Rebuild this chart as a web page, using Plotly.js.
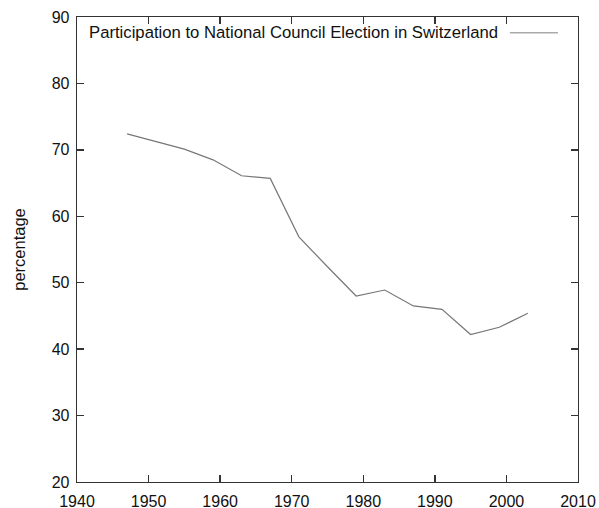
<!DOCTYPE html>
<html>
<head>
<meta charset="utf-8">
<script src="https://cdn.plot.ly/plotly-3.0.1.min.js"></script>
<style>html,body{margin:0;padding:0;background:#fff;}#chart{width:599px;height:508px;}</style>
</head>
<body>
<div id="chart"></div>
<script>
const years = [1947, 1951, 1955, 1959, 1963, 1967, 1971, 1975, 1979, 1983, 1987, 1991, 1995, 1999, 2003];
const participation = [72.4, 71.2, 70.1, 68.5, 66.1, 65.7, 56.9, 52.4, 48.0, 48.9, 46.5, 46.0, 42.2, 43.3, 45.4];
const seriesName = "Participation to National Council Election in Switzerland";
const xTicks = [1940, 1950, 1960, 1970, 1980, 1990, 2000, 2010];
const yTicks = [20, 30, 40, 50, 60, 70, 80, 90];

const lineColor = "#777777";
const fam = "Liberation Sans, Arial, Helvetica, sans-serif";
const font = {family: fam, size: 16, color: "#111"};
const legendFont = {family: fam, size: 16.7, color: "#111"};
const titleFont = {family: fam, size: 16.5, color: "#111"};

const trace = {
  x: years, y: participation, type: "scatter", mode: "lines",
  name: seriesName, line: {color: lineColor, width: 1.2}, showlegend: false
};

const axisCommon = {
  showline: true, linecolor: "#333", linewidth: 1.3,
  mirror: "ticks", ticks: "inside", ticklen: 7, tickcolor: "#333", tickwidth: 1.3,
  showgrid: false, zeroline: false, tickfont: font
};

const layout = {
  width: 599, height: 508,
  margin: {l: 77, r: 21, t: 17, b: 26},
  paper_bgcolor: "#fff", plot_bgcolor: "#fff",
  font: font,
  xaxis: Object.assign({}, axisCommon, {range: [1940, 2010], tickvals: xTicks, ticktext: xTicks.map(String), ticklabelstandoff: 4}),
  yaxis: Object.assign({}, axisCommon, {range: [20, 90], tickvals: yTicks, ticktext: yTicks.map(String), ticklabelstandoff: 3,
    title: {text: "percentage", font: titleFont, standoff: 22}}),
  annotations: [{
    xref: "paper", yref: "paper", x: 0.02, y: 0.966, xanchor: "left", yanchor: "middle",
    text: seriesName, showarrow: false, font: legendFont
  }],
  shapes: [{
    type: "line", xref: "paper", yref: "paper",
    x0: 0.864, x1: 0.96, y0: 0.966, y1: 0.966,
    line: {color: "#aaaaaa", width: 1.5}
  }]
};

Plotly.newPlot("chart", [trace], layout, {displayModeBar: false, staticPlot: true});
</script>
</body>
</html>
